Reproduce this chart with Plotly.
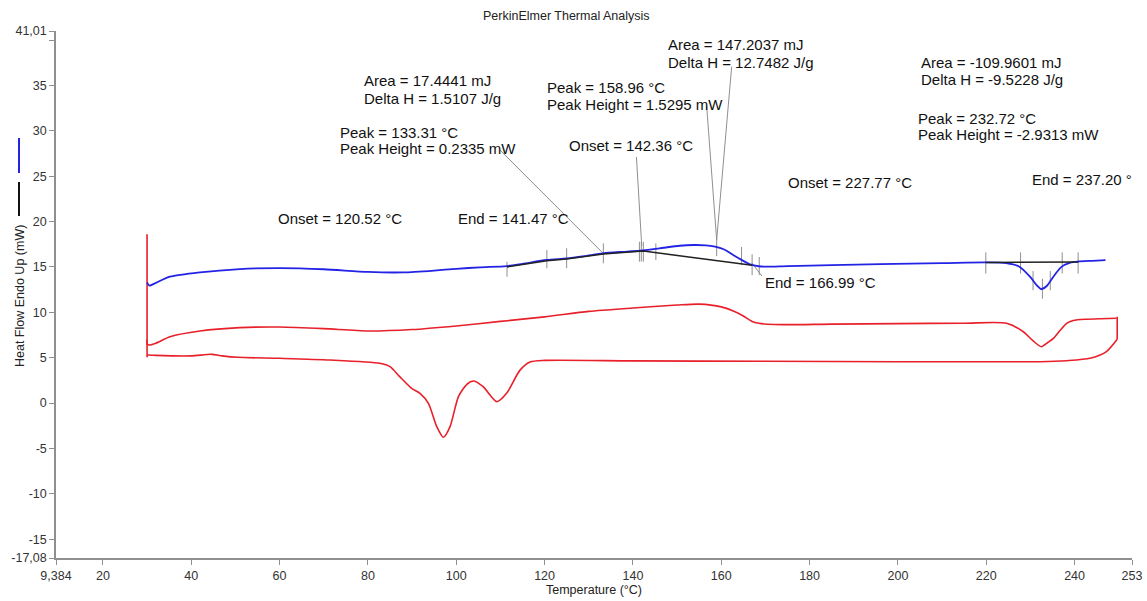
import plotly.graph_objects as go

# ---- curves (temperature in degC, heat flow in mW) ----
blue_t = [30.0, 30.5, 32, 35.2, 42.0, 51.0, 60, 70, 80, 88,
          95, 100, 105.4, 111.4, 115, 120.5, 125.0, 129, 133.2, 137,
          141.6, 146, 150.6, 153.7, 156.5, 158.6, 160.8, 162.7, 164.7, 166.5,
          168.5, 170.3, 175, 185, 195.9, 210, 220, 224.5, 227.5, 229.9,
          231.4, 232.45, 233.7, 235.2, 236.9, 239.0, 240.8, 244, 247.0]
blue_hf = [13.31, 12.94, 13.25, 13.93, 14.41, 14.77, 14.88, 14.75, 14.45, 14.4,
           14.6, 14.8, 14.96, 15.1, 15.35, 15.77, 15.95, 16.2, 16.5, 16.65,
           16.79, 17.05, 17.34, 17.42, 17.38, 17.23, 16.9, 16.32, 15.75, 15.29,
           15.08, 15.03, 15.1, 15.2, 15.32, 15.42, 15.5, 15.42, 15.03, 13.93,
           13.0, 12.57, 12.9, 13.93, 14.96, 15.47, 15.6, 15.68, 15.75]

red_up_t = [30.0, 30.5, 32, 35.2, 42.0, 51.0, 60, 70, 80, 90,
            100, 110, 120, 130, 140, 150, 155, 160, 163, 165,
            167, 168.5, 172, 185, 200, 215, 224.6, 228.4, 230.5, 232.45,
            234.0, 235.2, 236.7, 238.2, 239.7, 242.7, 246, 249.5]
red_up_hf = [6.5, 6.4, 6.6, 7.31, 7.94, 8.31, 8.38, 8.2, 7.94, 8.1,
             8.5, 9.0, 9.5, 10.1, 10.47, 10.8, 10.9, 10.6, 10.1, 9.6,
             9.0, 8.8, 8.65, 8.7, 8.75, 8.8, 8.79, 7.86, 6.9, 6.21,
             6.7, 7.13, 8.0, 8.79, 9.1, 9.24, 9.3, 9.34]

red_lo_t = [30.0, 32, 40, 44.6, 47, 50.5, 60.1, 71.4, 82.7, 85.0,
            87.2, 89.9, 91.8, 93.7, 95.6, 97.1, 98.6, 100.5, 102.4, 104.0,
            106.1, 109.2, 111.4, 114.4, 116.7, 120, 140, 170, 200, 220,
            232.2, 238.2, 243.5, 247.2, 249.65]
red_lo_hf = [5.3, 5.25, 5.2, 5.37, 5.2, 5.04, 4.93, 4.75, 4.38, 4.01,
             2.91, 1.62, 1.07, -0.03, -2.6, -3.77, -2.6, 0.71, 2.07, 2.43,
             1.8, 0.15, 1.07, 3.6, 4.52, 4.7, 4.65, 4.6, 4.55, 4.55,
             4.56, 4.67, 4.93, 5.67, 7.03]

# vertical jumps at start / end of the runs
red_jump_t = [30.0, 30.0, None, 30.0, 30.0, None, 249.65, 249.65]
red_jump_hf = [18.6, 5.04, None, 7.0, 6.4, None, 9.52, 7.03]

# calculated baselines (black)
base_t = [111.5, 120.5, 125.0, 133.3, 141.5, 142.36, 166.99, None, 219.9, 240.8]
base_hf = [15.0, 15.68, 15.88, 16.42, 16.72, 16.75, 15.2, None, 15.5, 15.55]

# event markers: temperature, centre heat flow, half height
mark_t = [111.5, 120.52, 125.0, 133.31, 141.47, 141.9, 142.36, 145.2, 158.96,
          164.6, 166.99, 168.6, 219.9, 227.77, 237.20, 240.8, 230.6, 232.72, 234.5]
mark_hf = [14.75, 15.86, 15.96, 16.5, 16.68, 16.68, 16.68, 16.68, 17.2,
           16.2, 15.25, 15.1, 15.44, 15.44, 15.44, 15.44, 13.49, 12.6, 13.49]
mark_half = [0.83, 1.0, 1.1, 1.1, 1.1, 1.1, 1.1, 0.92, 1.0,
             1.0, 1.15, 1.0, 1.17, 1.17, 1.17, 1.17, 1.06, 1.1, 1.06]

# leader lines from labels to events
lead_x0 = [109.9, 140.8, 156.7, 162.36, 166.96]
lead_y0 = [27.89, 27.12, 32.74, 37.08, 15.44]
lead_x1 = [133.2, 142.0, 158.96, 158.96, 169.2]
lead_y1 = [16.54, 17.3, 17.97, 17.97, 14.0]

labels = ["Area = 17.4441 mJ", "Delta H = 1.5107 J/g",
          "Peak = 133.31 °C", "Peak Height = 0.2335 mW",
          "Onset = 120.52 °C", "End = 141.47 °C",
          "Peak = 158.96 °C", "Peak Height = 1.5295 mW",
          "Onset = 142.36 °C",
          "Area = 147.2037 mJ", "Delta H = 12.7482 J/g",
          "Area = -109.9601 mJ", "Delta H = -9.5228 J/g",
          "Peak = 232.72 °C", "Peak Height = -2.9313 mW",
          "Onset = 227.77 °C", "End = 237.20 °",
          "End = 166.99 °C"]
label_x = [78.6, 78.6, 73.2, 73.2, 59.3, 99.9, 120.1, 120.1, 125.15,
           147.4, 147.4, 204.8, 204.8, 204.0, 204.0, 174.6, 230.0, 169.5]
label_y = [35.5, 33.59, 29.84, 28.08, 20.36, 20.36, 34.8, 32.96, 28.37,
           39.47, 37.56, 37.52, 35.61, 31.39, 29.55, 24.33, 24.59, 13.27]

x_ticks = [9.384, 20, 40, 60, 80, 100, 120, 140, 160, 180, 200, 220, 240, 253]
x_ticktext = ["9,384", "20", "40", "60", "80", "100", "120", "140", "160",
              "180", "200", "220", "240", "253"]
y_ticks = [-17.08, -15, -10, -5, 0, 5, 10, 15, 20, 25, 30, 35, 40, 41.01]
y_ticktext = ["-17,08", "-15", "-10", "-5", "0", "5", "10", "15", "20",
              "25", "30", "35", "", "41,01"]

FONT = "Arial, Liberation Sans, sans-serif"
RED = "#e8202a"
BLUE = "#2323e6"
GRAY = "#8f8f8f"

fig = go.Figure()

fig.add_trace(go.Scatter(x=red_up_t, y=red_up_hf, mode="lines",
                         line=dict(color=RED, width=1.6, shape="spline", smoothing=0.7)))
fig.add_trace(go.Scatter(x=red_lo_t, y=red_lo_hf, mode="lines",
                         line=dict(color=RED, width=1.6, shape="spline", smoothing=0.7)))
fig.add_trace(go.Scatter(x=red_jump_t, y=red_jump_hf, mode="lines",
                         line=dict(color=RED, width=1.6)))

# event markers
mx, my = [], []
for t, m, h in zip(mark_t, mark_hf, mark_half):
    mx += [t, t, None]
    my += [m - h, m + h, None]
fig.add_trace(go.Scatter(x=mx, y=my, mode="lines", line=dict(color=GRAY, width=1)))

# leader lines
lx, ly = [], []
for a, b, c, d in zip(lead_x0, lead_y0, lead_x1, lead_y1):
    lx += [a, c, None]
    ly += [b, d, None]
fig.add_trace(go.Scatter(x=lx, y=ly, mode="lines", line=dict(color=GRAY, width=1)))

fig.add_trace(go.Scatter(x=blue_t, y=blue_hf, mode="lines",
                         line=dict(color=BLUE, width=1.8, shape="spline", smoothing=0.7)))
fig.add_trace(go.Scatter(x=base_t, y=base_hf, mode="lines",
                         line=dict(color="#222222", width=1.5)))

for txt, x, y in zip(labels, label_x, label_y):
    fig.add_annotation(x=x, y=y, xref="x", yref="y", text=txt, showarrow=False,
                       xanchor="left", yanchor="middle",
                       font=dict(family=FONT, size=15, color="#111111"))

# title and y axis caption with the little colour key
fig.add_annotation(x=0.4749, y=1.0285, xref="paper", yref="paper",
                   text="PerkinElmer Thermal Analysis", showarrow=False,
                   xanchor="center", yanchor="middle",
                   font=dict(family=FONT, size=12.5, color="#222222"))
fig.add_annotation(x=-0.0335, y=0.497, xref="paper", yref="paper",
                   text="Heat Flow Endo Up (mW)", showarrow=False, textangle=-90,
                   xanchor="center", yanchor="middle",
                   font=dict(family=FONT, size=12.5, color="#222222"))
fig.add_annotation(x=0.5, y=-0.0607, xref="paper", yref="paper",
                   text="Temperature (°C)", showarrow=False,
                   xanchor="center", yanchor="middle",
                   font=dict(family=FONT, size=12.5, color="#222222"))
fig.add_shape(type="line", xref="paper", yref="paper", x0=-0.0344, x1=-0.0344,
              y0=0.7306, y1=0.797, line=dict(color=BLUE, width=2))
fig.add_shape(type="line", xref="paper", yref="paper", x0=-0.0344, x1=-0.0344,
              y0=0.649, y1=0.7135, line=dict(color="#111111", width=2))

fig.update_layout(
    width=1147, height=601,
    margin=dict(l=56, r=15, t=31, b=43, autoexpand=False),
    paper_bgcolor="white", plot_bgcolor="white",
    showlegend=False,
    font=dict(family=FONT, size=12.5, color="#333333"),
    xaxis=dict(range=[9.384, 253], tickvals=x_ticks, ticktext=x_ticktext,
               automargin=False,
               showgrid=False, zeroline=False, showline=True, linecolor=GRAY,
               linewidth=1.5, ticks="outside", ticklen=5, tickcolor=GRAY),
    yaxis=dict(range=[-17.08, 41.01], tickvals=y_ticks, ticktext=y_ticktext,
               automargin=False,
               showgrid=False, zeroline=False, showline=True, linecolor=GRAY,
               linewidth=1.5, ticks="outside", ticklen=5, tickcolor=GRAY),
)

# drop the default body margin so the figure fills the window exactly
fig.write_html("out.html", config={"displayModeBar": False},
               post_script="document.body.style.margin='0';"
                           "document.body.style.overflow='hidden';")
